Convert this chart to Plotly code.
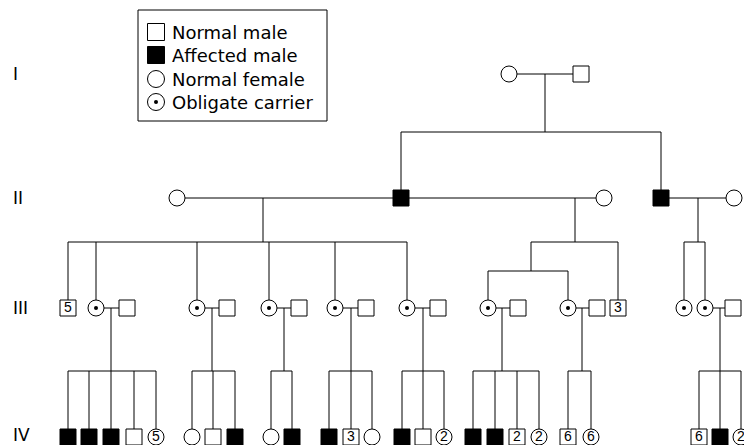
import plotly.graph_objects as go

# ---------------- data ----------------
generation_names = ["I", "II", "III", "IV"]

# individuals: id, generation, sex (M/F), status (N normal, A affected, C obligate carrier), count label
ind_id = ["I1", "I2",
          "II1", "II2", "II3", "II4", "II5",
          "III1", "III2", "III3", "III4", "III5", "III6", "III7", "III8", "III9", "III10",
          "III11", "III12", "III13", "III14", "III15", "III16", "III17", "III18", "III19",
          "IV1", "IV2", "IV3", "IV4", "IV5", "IV6", "IV7", "IV8", "IV9", "IV10", "IV11", "IV12",
          "IV13", "IV14", "IV15", "IV16", "IV17", "IV18", "IV19", "IV20", "IV21", "IV22", "IV23",
          "IV24", "IV25"]
ind_gen = ["I"] * 2 + ["II"] * 5 + ["III"] * 19 + ["IV"] * 25
ind_sex = ["F", "M",
           "F", "M", "F", "M", "F",
           "M", "F", "M", "F", "M", "F", "M", "F", "M", "F", "M", "F", "M", "F", "M", "M", "F", "F", "M",
           "M", "M", "M", "M", "F", "F", "M", "M", "F", "M", "M", "M", "F", "M", "M", "F",
           "M", "M", "M", "F", "M", "F", "M", "M", "F"]
ind_status = ["N", "N",
              "N", "A", "N", "A", "N",
              "N", "C", "N", "C", "N", "C", "N", "C", "N", "C", "N", "C", "N", "C", "N", "N", "C", "C", "N",
              "A", "A", "A", "N", "N", "N", "N", "A", "N", "A", "A", "N", "N", "A", "N", "N",
              "A", "A", "N", "N", "N", "N", "N", "A", "N"]
ind_count = ["", "",
             "", "", "", "", "",
             "5", "", "", "", "", "", "", "", "", "", "", "", "", "", "", "3", "", "", "",
             "", "", "", "", "5", "", "", "", "", "", "", "3", "", "", "", "2",
             "", "", "2", "2", "6", "6", "6", "", "2"]

# families: parents, children (a nested list is a sub-sibship)
fam_parents = [("I1", "I2"), ("II1", "II2"), ("II2", "II3"), ("II4", "II5"),
               ("III2", "III3"), ("III4", "III5"), ("III6", "III7"), ("III8", "III9"),
               ("III10", "III11"), ("III12", "III13"), ("III14", "III15"), ("III18", "III19")]
fam_children = [["II2", "II4"],
                ["III1", "III2", "III4", "III6", "III8", "III10"],
                [["III12", "III14"], "III16"],
                ["III17", "III18"],
                ["IV1", "IV2", "IV3", "IV4", "IV5"],
                ["IV6", "IV7", "IV8"],
                ["IV9", "IV10"],
                ["IV11", "IV12", "IV13"],
                ["IV14", "IV15", "IV16"],
                ["IV17", "IV18", "IV19", "IV20"],
                ["IV21", "IV22"],
                ["IV23", "IV24", "IV25"]]

legend_names = ["Normal male", "Affected male", "Normal female", "Obligate carrier"]
legend_kind = ["square-open", "square", "circle-open", "carrier"]

# ---------------- drawing layout (pedigree placement) ----------------
W, H = 744, 445
gen_y = {"I": 74, "II": 198, "III": 308, "IV": 437}
gen_label_y = {"I": 74, "II": 198, "III": 308, "IV": 435}
x_pos = [509, 581,
         177, 401, 604, 661, 734,
         68, 96, 127, 197, 227, 269, 299, 335, 366, 407, 438, 488, 518, 568, 597, 618, 684, 705, 733,
         68, 89, 111, 134, 156, 192, 213, 235, 271, 292, 329, 351, 372, 402, 423, 444,
         473, 495, 517, 539, 568, 591, 699, 720, 741]
descent_x = [545, 263, 575, 698, 111, 212, 284, 351, 423, 502, 582, 720]
sib_y = [132, 242, 242, 242, 371, 371, 371, 371, 371, 371, 371, 371]
sub_sib_x = 531
sub_sib_y = 271
half = 8  # half symbol size
FONT = "DejaVu Sans, Liberation Sans, Arial, sans-serif"

# legend box geometry
LEG_BOX = (138, 10, 327, 121)
LEG_SYM_X = 156
LEG_TEXT_X = 170
LEG_ROW_Y = [32, 55, 79, 102]
LEG_HALF = 8.5

pos = {i: (x, gen_y[g]) for i, x, g in zip(ind_id, x_pos, ind_gen)}

lx, ly = [], []


def seg(x0, y0, x1, y1):
    lx.extend([x0, x1, None])
    ly.extend([y0, y1, None])


for (a, b), kids, dx, sy in zip(fam_parents, fam_children, descent_x, sib_y):
    (ax, ay), (bx, by) = pos[a], pos[b]
    left, right = sorted([ax, bx])
    seg(left + half, ay, right - half, ay)       # marriage line
    seg(dx, ay, dx, sy)                          # descent line
    xs = []
    for k in kids:
        if isinstance(k, list):
            xs.append(sub_sib_x)
            seg(sub_sib_x, sy, sub_sib_x, sub_sib_y)
            sxs = [pos[c][0] for c in k]
            seg(min(sxs), sub_sib_y, max(sxs), sub_sib_y)
            for c in k:
                seg(pos[c][0], sub_sib_y, pos[c][0], pos[c][1] - half)
        else:
            xs.append(pos[k][0])
            seg(pos[k][0], sy, pos[k][0], pos[k][1] - half)
    seg(min(xs), sy, max(xs), sy)                # sibship line

fig = go.Figure()
fig.add_trace(go.Scatter(x=lx, y=ly, mode="lines", line=dict(color="black", width=1),
                         hoverinfo="skip", showlegend=False))

cats = [(legend_names[0], "M", "N", "square-open"),
        (legend_names[1], "M", "A", "square"),
        (legend_names[2], "F", "N", "circle-open"),
        (legend_names[3], "F", "C", "circle-open")]
for name, s, st, sym in cats:
    sel = [k for k in range(len(ind_id)) if ind_sex[k] == s and ind_status[k] == st]
    xs = [pos[ind_id[k]][0] for k in sel]
    ys = [pos[ind_id[k]][1] for k in sel]
    fig.add_trace(go.Scatter(
        x=xs, y=ys,
        text=[ind_count[k] for k in sel],
        mode="markers+text",
        textposition="middle center",
        textfont=dict(size=14, color="black", family="Liberation Sans, Arial, sans-serif"),
        marker=dict(symbol=sym, size=16, color="black", line=dict(color="black", width=1)),
        name=name, hoverinfo="skip", showlegend=False))
    if st == "C":
        # centre dot of the obligate carriers
        fig.add_trace(go.Scatter(x=xs, y=ys, mode="markers",
                                 marker=dict(symbol="circle", size=4, color="black"),
                                 showlegend=False, hoverinfo="skip"))

# ---- legend (drawn box with keys) ----
shapes = [dict(type="rect", xref="x", yref="y", x0=LEG_BOX[0], y0=LEG_BOX[1], x1=LEG_BOX[2], y1=LEG_BOX[3],
               line=dict(color="black", width=1), fillcolor="white", layer="above")]
for name, kind, yy in zip(legend_names, legend_kind, LEG_ROW_Y):
    x0, x1 = LEG_SYM_X - LEG_HALF, LEG_SYM_X + LEG_HALF
    y0, y1 = yy - LEG_HALF, yy + LEG_HALF
    if kind.startswith("square"):
        shapes.append(dict(type="rect", xref="x", yref="y", x0=x0, x1=x1, y0=y0, y1=y1,
                           line=dict(color="black", width=1),
                           fillcolor="black" if kind == "square" else "white", layer="above"))
    else:
        shapes.append(dict(type="circle", xref="x", yref="y", x0=x0, x1=x1, y0=y0, y1=y1,
                           line=dict(color="black", width=1), fillcolor="white", layer="above"))
        if kind == "carrier":
            shapes.append(dict(type="circle", xref="x", yref="y", x0=LEG_SYM_X - 2, x1=LEG_SYM_X + 2,
                               y0=yy - 2, y1=yy + 2, line=dict(color="black", width=0),
                               fillcolor="black", layer="above"))
    fig.add_annotation(x=LEG_TEXT_X, y=yy, text=name, showarrow=False, xanchor="left", yanchor="middle",
                       font=dict(size=18, color="black", family=FONT))

for g in generation_names:
    fig.add_annotation(x=11, y=gen_label_y[g], text=g, showarrow=False, xanchor="left",
                       font=dict(size=17, color="black", family=FONT))

fig.update_layout(
    width=W, height=H, margin=dict(l=0, r=0, t=0, b=0),
    paper_bgcolor="white", plot_bgcolor="white",
    font=dict(family=FONT, color="black"),
    xaxis=dict(range=[0, W], visible=False, fixedrange=True),
    yaxis=dict(range=[H, 0], visible=False, fixedrange=True),
    shapes=shapes,
    showlegend=False,
)
fig.write_html("out.html", config={"displayModeBar": False},
               post_script="document.body.style.margin='0px';")
